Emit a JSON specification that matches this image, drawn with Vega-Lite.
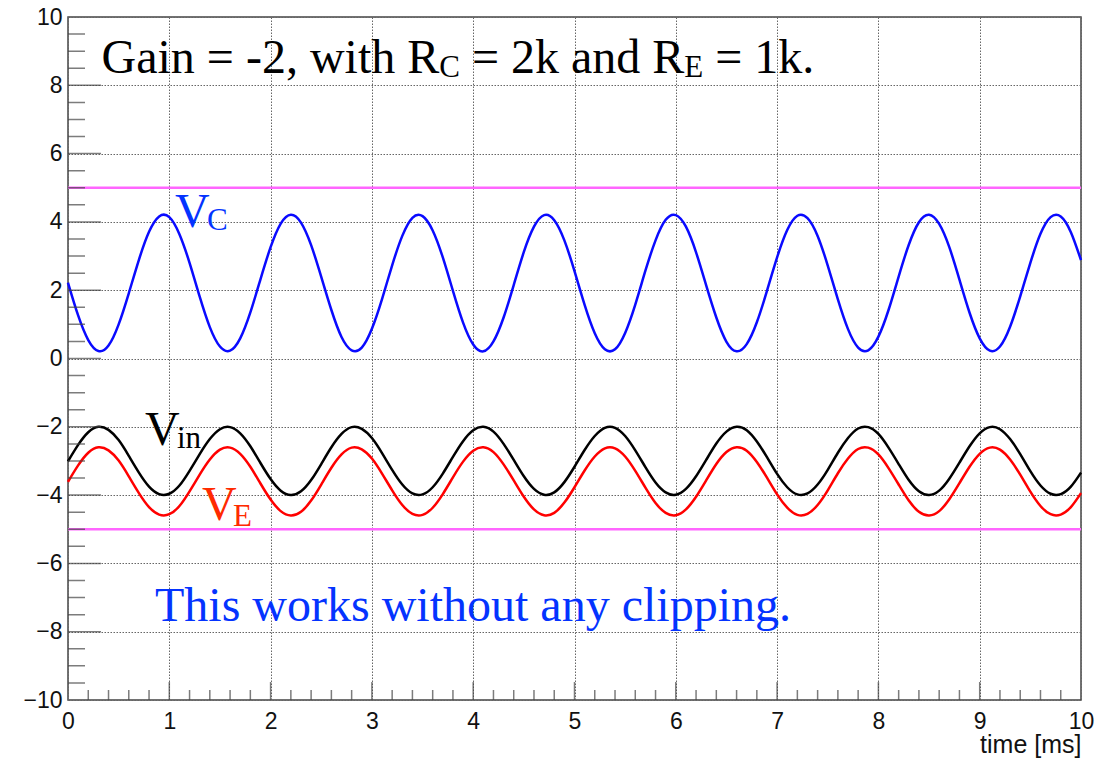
{
  "$schema": "https://vega.github.io/schema/vega-lite/v6.json",
  "width": 1013,
  "height": 683,
  "autosize": "none",
  "padding": {"left": 68, "top": 17, "right": 26, "bottom": 59},
  "background": "white",
  "config": {"view": {"stroke": "#444", "strokeWidth": 1.5}},
  "datasets": {
    "waves": [
      {"t":0.0,"vin":-3.01,"ve":-3.61,"vc":2.22},
      {"t":0.1,"vin":-2.53,"ve":-3.13,"vc":1.26},
      {"t":0.2,"vin":-2.16,"ve":-2.76,"vc":0.54},
      {"t":0.3,"vin":-2.00,"ve":-2.60,"vc":0.22},
      {"t":0.4,"vin":-2.09,"ve":-2.69,"vc":0.38},
      {"t":0.5,"vin":-2.39,"ve":-2.99,"vc":1.00},
      {"t":0.6,"vin":-2.85,"ve":-3.45,"vc":1.91},
      {"t":0.7,"vin":-3.34,"ve":-3.94,"vc":2.89},
      {"t":0.8,"vin":-3.75,"ve":-4.35,"vc":3.71},
      {"t":0.9,"vin":-3.97,"ve":-4.57,"vc":4.16},
      {"t":1.0,"vin":-3.96,"ve":-4.56,"vc":4.14},
      {"t":1.1,"vin":-3.72,"ve":-4.32,"vc":3.64},
      {"t":1.2,"vin":-3.29,"ve":-3.89,"vc":2.80},
      {"t":1.3,"vin":-2.80,"ve":-3.40,"vc":1.81},
      {"t":1.4,"vin":-2.36,"ve":-2.96,"vc":0.92},
      {"t":1.5,"vin":-2.07,"ve":-2.67,"vc":0.35},
      {"t":1.6,"vin":-2.01,"ve":-2.61,"vc":0.23},
      {"t":1.7,"vin":-2.19,"ve":-2.79,"vc":0.59},
      {"t":1.8,"vin":-2.57,"ve":-3.17,"vc":1.35},
      {"t":1.9,"vin":-3.06,"ve":-3.66,"vc":2.32},
      {"t":2.0,"vin":-3.53,"ve":-4.13,"vc":3.26},
      {"t":2.1,"vin":-3.87,"ve":-4.47,"vc":3.95},
      {"t":2.2,"vin":-4.00,"ve":-4.60,"vc":4.21},
      {"t":2.3,"vin":-3.89,"ve":-4.49,"vc":3.98},
      {"t":2.4,"vin":-3.56,"ve":-4.16,"vc":3.32},
      {"t":2.5,"vin":-3.09,"ve":-3.69,"vc":2.39},
      {"t":2.6,"vin":-2.60,"ve":-3.20,"vc":1.42},
      {"t":2.7,"vin":-2.21,"ve":-2.81,"vc":0.63},
      {"t":2.8,"vin":-2.01,"ve":-2.61,"vc":0.24},
      {"t":2.9,"vin":-2.06,"ve":-2.66,"vc":0.32},
      {"t":3.0,"vin":-2.33,"ve":-2.93,"vc":0.87},
      {"t":3.1,"vin":-2.77,"ve":-3.37,"vc":1.74},
      {"t":3.2,"vin":-3.26,"ve":-3.86,"vc":2.73},
      {"t":3.3,"vin":-3.69,"ve":-4.29,"vc":3.59},
      {"t":3.4,"vin":-3.95,"ve":-4.55,"vc":4.12},
      {"t":3.5,"vin":-3.98,"ve":-4.58,"vc":4.17},
      {"t":3.6,"vin":-3.77,"ve":-4.37,"vc":3.75},
      {"t":3.7,"vin":-3.37,"ve":-3.97,"vc":2.96},
      {"t":3.8,"vin":-2.88,"ve":-3.48,"vc":1.98},
      {"t":3.9,"vin":-2.42,"ve":-3.02,"vc":1.05},
      {"t":4.0,"vin":-2.10,"ve":-2.70,"vc":0.41},
      {"t":4.1,"vin":-2.00,"ve":-2.60,"vc":0.21},
      {"t":4.2,"vin":-2.14,"ve":-2.74,"vc":0.50},
      {"t":4.3,"vin":-2.50,"ve":-3.10,"vc":1.20},
      {"t":4.4,"vin":-2.97,"ve":-3.57,"vc":2.15},
      {"t":4.5,"vin":-3.45,"ve":-4.05,"vc":3.12},
      {"t":4.6,"vin":-3.82,"ve":-4.42,"vc":3.86},
      {"t":4.7,"vin":-3.99,"ve":-4.59,"vc":4.20},
      {"t":4.8,"vin":-3.92,"ve":-4.52,"vc":4.05},
      {"t":4.9,"vin":-3.62,"ve":-4.22,"vc":3.46},
      {"t":5.0,"vin":-3.17,"ve":-3.77,"vc":2.56},
      {"t":5.1,"vin":-2.68,"ve":-3.28,"vc":1.57},
      {"t":5.2,"vin":-2.27,"ve":-2.87,"vc":0.74},
      {"t":5.3,"vin":-2.03,"ve":-2.63,"vc":0.27},
      {"t":5.4,"vin":-2.03,"ve":-2.63,"vc":0.27},
      {"t":5.5,"vin":-2.27,"ve":-2.87,"vc":0.75},
      {"t":5.6,"vin":-2.69,"ve":-3.29,"vc":1.58},
      {"t":5.7,"vin":-3.18,"ve":-3.78,"vc":2.57},
      {"t":5.8,"vin":-3.63,"ve":-4.23,"vc":3.46},
      {"t":5.9,"vin":-3.92,"ve":-4.52,"vc":4.06},
      {"t":6.0,"vin":-3.99,"ve":-4.59,"vc":4.20},
      {"t":6.1,"vin":-3.82,"ve":-4.42,"vc":3.86},
      {"t":6.2,"vin":-3.45,"ve":-4.05,"vc":3.11},
      {"t":6.3,"vin":-2.97,"ve":-3.57,"vc":2.14},
      {"t":6.4,"vin":-2.49,"ve":-3.09,"vc":1.20},
      {"t":6.5,"vin":-2.14,"ve":-2.74,"vc":0.49},
      {"t":6.6,"vin":-2.00,"ve":-2.60,"vc":0.21},
      {"t":6.7,"vin":-2.10,"ve":-2.70,"vc":0.42},
      {"t":6.8,"vin":-2.43,"ve":-3.03,"vc":1.06},
      {"t":6.9,"vin":-2.89,"ve":-3.49,"vc":1.98},
      {"t":7.0,"vin":-3.38,"ve":-3.98,"vc":2.96},
      {"t":7.1,"vin":-3.77,"ve":-4.37,"vc":3.76},
      {"t":7.2,"vin":-3.98,"ve":-4.58,"vc":4.18},
      {"t":7.3,"vin":-3.95,"ve":-4.55,"vc":4.11},
      {"t":7.4,"vin":-3.69,"ve":-4.29,"vc":3.59},
      {"t":7.5,"vin":-3.26,"ve":-3.86,"vc":2.72},
      {"t":7.6,"vin":-2.76,"ve":-3.36,"vc":1.73},
      {"t":7.7,"vin":-2.33,"ve":-2.93,"vc":0.86},
      {"t":7.8,"vin":-2.05,"ve":-2.65,"vc":0.32},
      {"t":7.9,"vin":-2.01,"ve":-2.61,"vc":0.24},
      {"t":8.0,"vin":-2.21,"ve":-2.81,"vc":0.64},
      {"t":8.1,"vin":-2.61,"ve":-3.21,"vc":1.42},
      {"t":8.2,"vin":-3.09,"ve":-3.69,"vc":2.40},
      {"t":8.3,"vin":-3.56,"ve":-4.16,"vc":3.33},
      {"t":8.4,"vin":-3.89,"ve":-4.49,"vc":3.99},
      {"t":8.5,"vin":-4.00,"ve":-4.60,"vc":4.21},
      {"t":8.6,"vin":-3.87,"ve":-4.47,"vc":3.94},
      {"t":8.7,"vin":-3.52,"ve":-4.12,"vc":3.26},
      {"t":8.8,"vin":-3.05,"ve":-3.65,"vc":2.31},
      {"t":8.9,"vin":-2.57,"ve":-3.17,"vc":1.34},
      {"t":9.0,"vin":-2.19,"ve":-2.79,"vc":0.59},
      {"t":9.1,"vin":-2.01,"ve":-2.61,"vc":0.23},
      {"t":9.2,"vin":-2.07,"ve":-2.67,"vc":0.35},
      {"t":9.3,"vin":-2.36,"ve":-2.96,"vc":0.93},
      {"t":9.4,"vin":-2.80,"ve":-3.40,"vc":1.82},
      {"t":9.5,"vin":-3.30,"ve":-3.90,"vc":2.80},
      {"t":9.6,"vin":-3.72,"ve":-4.32,"vc":3.65},
      {"t":9.7,"vin":-3.96,"ve":-4.56,"vc":4.14},
      {"t":9.8,"vin":-3.97,"ve":-4.57,"vc":4.16},
      {"t":9.9,"vin":-3.75,"ve":-4.35,"vc":3.70},
      {"t":10.0,"vin":-3.34,"ve":-3.94,"vc":2.88}
    ],
    "limits": [{"v": 5}, {"v": -5}],
    "xticks": [
      {"t":0.2,"kind":"minor"},{"t":0.4,"kind":"minor"},{"t":0.6,"kind":"minor"},{"t":0.8,"kind":"minor"},{"t":1,"kind":"major"},
      {"t":1.2,"kind":"minor"},{"t":1.4,"kind":"minor"},{"t":1.6,"kind":"minor"},{"t":1.8,"kind":"minor"},{"t":2,"kind":"major"},
      {"t":2.2,"kind":"minor"},{"t":2.4,"kind":"minor"},{"t":2.6,"kind":"minor"},{"t":2.8,"kind":"minor"},{"t":3,"kind":"major"},
      {"t":3.2,"kind":"minor"},{"t":3.4,"kind":"minor"},{"t":3.6,"kind":"minor"},{"t":3.8,"kind":"minor"},{"t":4,"kind":"major"},
      {"t":4.2,"kind":"minor"},{"t":4.4,"kind":"minor"},{"t":4.6,"kind":"minor"},{"t":4.8,"kind":"minor"},{"t":5,"kind":"major"},
      {"t":5.2,"kind":"minor"},{"t":5.4,"kind":"minor"},{"t":5.6,"kind":"minor"},{"t":5.8,"kind":"minor"},{"t":6,"kind":"major"},
      {"t":6.2,"kind":"minor"},{"t":6.4,"kind":"minor"},{"t":6.6,"kind":"minor"},{"t":6.8,"kind":"minor"},{"t":7,"kind":"major"},
      {"t":7.2,"kind":"minor"},{"t":7.4,"kind":"minor"},{"t":7.6,"kind":"minor"},{"t":7.8,"kind":"minor"},{"t":8,"kind":"major"},
      {"t":8.2,"kind":"minor"},{"t":8.4,"kind":"minor"},{"t":8.6,"kind":"minor"},{"t":8.8,"kind":"minor"},{"t":9,"kind":"major"},
      {"t":9.2,"kind":"minor"},{"t":9.4,"kind":"minor"},{"t":9.6,"kind":"minor"},{"t":9.8,"kind":"minor"}
    ],
    "yticks": [
      {"v":-9.5,"kind":"minor"},{"v":-9,"kind":"minor"},{"v":-8.5,"kind":"minor"},{"v":-8,"kind":"major"},
      {"v":-7.5,"kind":"minor"},{"v":-7,"kind":"minor"},{"v":-6.5,"kind":"minor"},{"v":-6,"kind":"major"},
      {"v":-5.5,"kind":"minor"},{"v":-5,"kind":"minor"},{"v":-4.5,"kind":"minor"},{"v":-4,"kind":"major"},
      {"v":-3.5,"kind":"minor"},{"v":-3,"kind":"minor"},{"v":-2.5,"kind":"minor"},{"v":-2,"kind":"major"},
      {"v":-1.5,"kind":"minor"},{"v":-1,"kind":"minor"},{"v":-0.5,"kind":"minor"},{"v":0,"kind":"major"},
      {"v":0.5,"kind":"minor"},{"v":1,"kind":"minor"},{"v":1.5,"kind":"minor"},{"v":2,"kind":"major"},
      {"v":2.5,"kind":"minor"},{"v":3,"kind":"minor"},{"v":3.5,"kind":"minor"},{"v":4,"kind":"major"},
      {"v":4.5,"kind":"minor"},{"v":5,"kind":"minor"},{"v":5.5,"kind":"minor"},{"v":6,"kind":"major"},
      {"v":6.5,"kind":"minor"},{"v":7,"kind":"minor"},{"v":7.5,"kind":"minor"},{"v":8,"kind":"major"},
      {"v":8.5,"kind":"minor"},{"v":9,"kind":"minor"},{"v":9.5,"kind":"minor"}
    ],
    "notes": [
      {"x":0.331,"y":8.35,"text":"Gain = -2, with R","kind":"main","series":"note"},
      {"x":3.664,"y":8.24,"text":"C","kind":"sub","series":"note"},
      {"x":3.987,"y":8.35,"text":"= 2k and R","kind":"main","series":"note"},
      {"x":6.084,"y":8.24,"text":"E","kind":"sub","series":"note"},
      {"x":6.389,"y":8.35,"text":"= 1k.","kind":"main","series":"note"},
      {"x":0.859,"y":-7.69,"text":"This works without any clipping.","kind":"main","series":"clip"},
      {"x":1.056,"y":3.85,"text":"V","kind":"main","series":"vc"},
      {"x":1.372,"y":3.76,"text":"C","kind":"sub","series":"vc"},
      {"x":0.760,"y":-2.53,"text":"V","kind":"main","series":"vin"},
      {"x":1.076,"y":-2.62,"text":"in","kind":"sub","series":"vin"},
      {"x":1.323,"y":-4.73,"text":"V","kind":"main","series":"ve"},
      {"x":1.629,"y":-4.90,"text":"E","kind":"sub","series":"ve"}
    ]
  },
  "layer": [
    {
      "data": {"name": "waves"},
      "mark": {"type": "line", "color": "#0a0aff", "strokeWidth": 2.5, "interpolate": "natural"},
      "encoding": {
        "x": {
          "field": "t", "type": "quantitative",
          "scale": {"domain": [0, 10], "nice": false, "zero": false},
          "axis": {
            "title": "time [ms]",
            "values": [0,1,2,3,4,5,6,7,8,9,10],
            "format": "d",
            "ticks": false, "tickSize": 0, "domain": false,
            "grid": true, "gridColor": "#666", "gridDash": [1.5, 1.5], "gridWidth": 1,
            "labelFont": "Liberation Sans", "labelFontSize": 23, "labelColor": "#111",
            "labelPadding": 10, "labelFlush": false, "labelOverlap": false, "labelBound": false,
            "labelAlign": "center", "labelBaseline": "top",
            "titleFont": "Liberation Sans", "titleFontSize": 25, "titleFontWeight": "normal", "titleColor": "#111",
            "titleAnchor": "end", "titleAlign": "right", "titleBaseline": "alphabetic", "titleY": 52
          }
        },
        "y": {
          "field": "vc", "type": "quantitative",
          "scale": {"domain": [-10, 10], "nice": false, "zero": false},
          "axis": {
            "title": null,
            "values": [-10,-8,-6,-4,-2,0,2,4,6,8,10],
            "format": "d",
            "ticks": false, "tickSize": 0, "domain": false,
            "grid": true, "gridColor": "#666", "gridDash": [1.5, 1.5], "gridWidth": 1,
            "labelFont": "Liberation Sans", "labelFontSize": 23, "labelColor": "#111",
            "labelPadding": 6, "labelFlush": false, "labelOverlap": false, "labelBound": false,
            "labelAlign": "right", "labelBaseline": "middle"
          }
        }
      }
    },
    {
      "data": {"name": "waves"},
      "mark": {"type": "line", "color": "#000000", "strokeWidth": 2.5, "interpolate": "natural"},
      "encoding": {
        "x": {"field": "t", "type": "quantitative"},
        "y": {"field": "vin", "type": "quantitative"}
      }
    },
    {
      "data": {"name": "waves"},
      "mark": {"type": "line", "color": "#ff0000", "strokeWidth": 2.5, "interpolate": "natural"},
      "encoding": {
        "x": {"field": "t", "type": "quantitative"},
        "y": {"field": "ve", "type": "quantitative"}
      }
    },
    {
      "data": {"name": "limits"},
      "mark": {"type": "rule", "color": "#ff66ff", "strokeWidth": 2.5},
      "encoding": {
        "y": {"field": "v", "type": "quantitative"}
      }
    },
    {
      "data": {"name": "xticks"},
      "mark": {"type": "tick", "orient": "vertical", "color": "#444", "thickness": 1.5, "clip": true},
      "encoding": {
        "x": {"field": "t", "type": "quantitative"},
        "y": {"datum": -10, "type": "quantitative"},
        "size": {"field": "kind", "type": "nominal", "scale": {"domain": ["major", "minor"], "range": [36, 20]}, "legend": null}
      }
    },
    {
      "data": {"name": "yticks"},
      "mark": {"type": "tick", "orient": "horizontal", "color": "#444", "thickness": 1.5, "clip": true},
      "encoding": {
        "y": {"field": "v", "type": "quantitative"},
        "x": {"datum": 0, "type": "quantitative"},
        "size": {"field": "kind", "type": "nominal", "scale": {"domain": ["major", "minor"], "range": [66, 34]}, "legend": null}
      }
    },
    {
      "data": {"name": "notes"},
      "mark": {"type": "text", "align": "left", "baseline": "alphabetic", "font": "Liberation Serif"},
      "encoding": {
        "x": {"field": "x", "type": "quantitative"},
        "y": {"field": "y", "type": "quantitative"},
        "text": {"field": "text"},
        "size": {"field": "kind", "type": "nominal", "scale": {"domain": ["main", "sub"], "range": [48, 31]}, "legend": null},
        "color": {"field": "series", "type": "nominal", "scale": {"domain": ["note", "clip", "vc", "vin", "ve"], "range": ["#000000", "#0433ff", "#0433ff", "#000000", "#ff2a00"]}, "legend": null}
      }
    }
  ],
  "resolve": {"scale": {"size": "independent"}}
}
